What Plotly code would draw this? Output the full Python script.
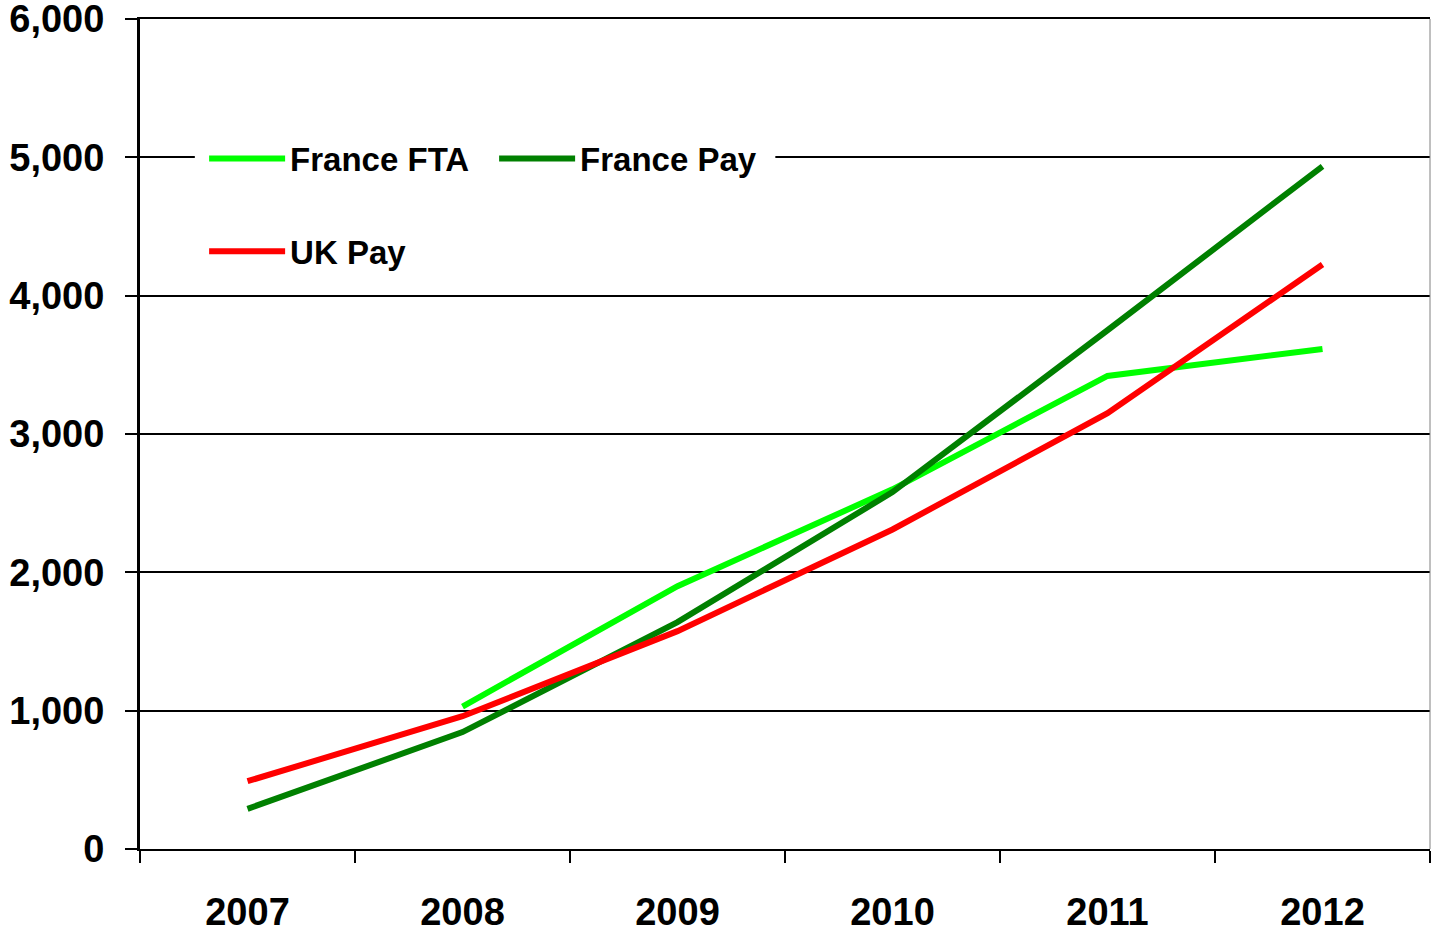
import plotly.graph_objects as go

years = ["2007", "2008", "2009", "2010", "2011", "2012"]

france_fta = [None, 1030, 1900, 2600, 3420, 3615]
france_pay = [290, 845, 1640, 2580, 3750, 4935]
uk_pay = [490, 960, 1575, 2310, 3150, 4225]

y_ticks = [0, 1000, 2000, 3000, 4000, 5000, 6000]

FONT = "Liberation Sans"

fig = go.Figure()

fig.add_trace(go.Scatter(x=years, y=france_fta, name="France FTA", mode="lines",
                         line=dict(color="#00FF00", width=6), legend="legend"))
fig.add_trace(go.Scatter(x=years, y=france_pay, name="France Pay", mode="lines",
                         line=dict(color="#008000", width=6), legend="legend"))
fig.add_trace(go.Scatter(x=years, y=uk_pay, name="UK Pay", mode="lines",
                         line=dict(color="#FF0000", width=6), legend="legend2"))

# white patch behind the legend hides the gridlines
fig.add_shape(type="rect", xref="x", yref="y", x0=-0.245, x1=2.455, y0=4004, y1=5300,
              fillcolor="white", line_width=0, layer="between")
# thin right border
fig.add_shape(type="line", xref="paper", yref="paper", x0=1, x1=1, y0=0, y1=1,
              line=dict(color="#808080", width=1))

legend_font = dict(family=FONT, size=33, color="black", weight="bold")

fig.update_layout(
    width=1431, height=931,
    margin=dict(l=140, r=1, t=19, b=82),
    paper_bgcolor="white", plot_bgcolor="white",
    font=dict(family=FONT, color="black", weight="bold"),
    legend=dict(orientation="h", x=0.0497, y=0.832, xanchor="left", yanchor="middle",
                bgcolor="rgba(0,0,0,0)", font=legend_font, itemwidth=76,
                entrywidth=199, entrywidthmode="pixels"),
    legend2=dict(orientation="h", x=0.0497, y=0.72, xanchor="left", yanchor="middle",
                 bgcolor="rgba(0,0,0,0)", font=legend_font, itemwidth=76),
    showlegend=True,
)

fig.update_xaxes(
    type="category", range=[-0.5, 5.5], tickson="boundaries",
    ticks="outside", ticklen=12, tickwidth=2, tickcolor="black",
    showline=True, linecolor="black", linewidth=2, mirror=True,
    showgrid=False, ticklabelstandoff=28, automargin=False,
    tickfont=dict(family=FONT, size=38, color="black", weight="bold"),
)
fig.update_yaxes(
    range=[0, 6000], tickvals=y_ticks, tickformat=",",
    ticks="outside", ticklen=12, tickwidth=2, tickcolor="black",
    showline=True, linecolor="black", linewidth=3,
    showgrid=True, gridcolor="black", gridwidth=2, zeroline=False,
    ticklabelstandoff=13, automargin=False, ticklabeloverflow="allow",
    tickfont=dict(family=FONT, size=38, color="black", weight="bold"),
)

# drop the default 8px body margin so the figure fills the window
fig.write_html("out.html", config={"displayModeBar": False},
               post_script="document.body.style.margin='0';")
